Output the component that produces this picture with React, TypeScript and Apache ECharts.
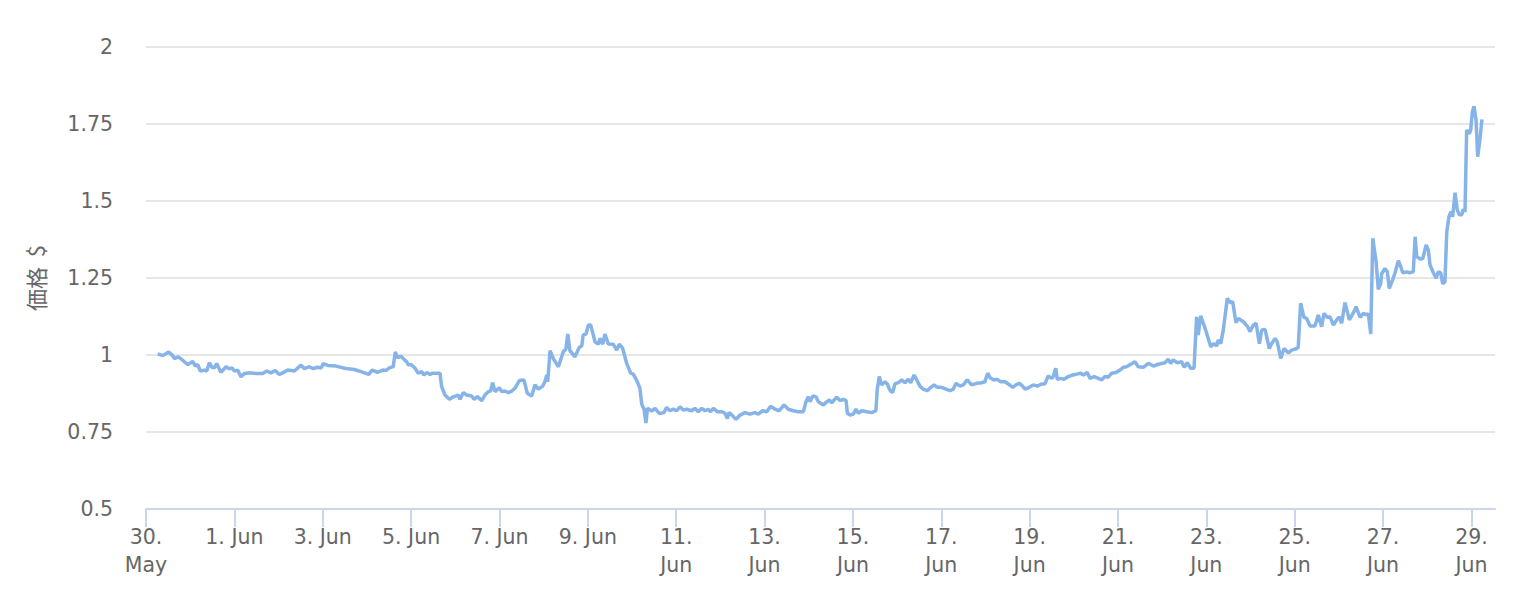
import React, { useEffect, useRef } from "react";
import * as echarts from "echarts";

// hours since 30 May 00:00
const hours: number[] = [
  6.4, 9.1, 12.3, 14.5, 15.4, 17.5, 19.9, 22.7, 25.4, 26.8, 28.1, 29.5, 31.7, 33.0, 34.4, 35.9, 37.1, 38.4, 40.7, 43.5,
  45.2, 46.7, 48.0, 49.8, 51.6, 53.4, 56.1, 59.8, 63.4, 65.6, 67.9, 70.2, 72.4, 74.3, 77.0, 80.6, 84.2, 86.0, 88.7, 90.6,
  93.3, 95.1, 96.3, 98.7, 103.2, 108.6, 113.2, 116.8, 121.0, 122.8, 125.9, 128.6, 130.4, 132.2, 134.3, 135.4, 136.7, 138.5, 140.3,
  141.6, 142.5, 144.3, 146.1, 147.9, 149.8, 151.0, 152.5, 154.3, 155.7, 157.9, 159.7, 160.6, 162.4, 164.8, 166.6, 168.4, 169.6,
  170.6, 172.4, 174.2, 176.9, 178.2, 180.0, 182.4, 184.1, 185.9, 187.2, 188.3, 189.6, 191.9, 193.2, 195.0, 196.8, 198.7, 200.4,
  202.8, 205.3, 207.1, 209.5, 211.3, 213.1, 215.5, 216.7, 217.7, 218.2, 219.5, 221.2, 224.0, 226.7, 228.1, 229.1, 230.3, 233.0,
  235.4, 236.7, 237.5, 239.0, 240.3, 241.6, 243.9, 245.7, 246.6, 248.1, 249.3, 251.1, 253.8, 255.7, 257.1, 258.9, 261.1, 263.3,
  264.7, 266.9, 268.3, 269.3, 270.5, 271.6, 272.4, 274.7, 276.5, 278.8,
  281.4, 282.8, 284.6, 286.4, 288.3, 290.1, 291.9, 293.7, 296.4, 298.2, 300.0, 301.9, 303.7, 305.4, 306.7, 308.2, 310.3, 312.7,
  314.5, 315.8, 316.8, 318.2, 320.5, 322.7, 325.4, 328.1, 330.8, 332.6, 335.0, 337.2, 339.3, 341.7, 344.0, 346.6, 348.9, 351.6,
  354.3, 357.1, 358.5, 359.8, 360.7, 362.2, 364.0, 365.2, 367.9, 369.8, 371.2, 372.5, 375.2, 377.0, 378.8, 380.3, 381.0, 382.5,
  384.2, 385.7, 386.9, 388.8, 391.5, 394.2, 396.5, 397.2, 398.3, 399.6, 401.4, 402.7,
  404.1, 405.6, 406.8, 408.7, 410.5, 412.3, 414.1, 415.4, 417.2, 418.7, 420.4, 422.2, 424.4, 426.3, 428.1, 429.8, 432.2, 434.6,
  436.7, 438.5, 440.0, 442.2, 444.0, 446.1, 448.5, 451.2, 453.9, 455.7, 457.2, 458.5, 460.6, 462.4, 464.3, 466.6, 468.4, 470.8,
  472.6, 474.4, 476.2, 477.5, 479.8, 482.0, 484.2, 486.5, 488.3, 490.1, 492.0, 492.8, 494.2, 495.0, 496.9, 498.7, 501.0, 503.4,
  505.6, 507.7, 509.2, 511.3, 512.8, 515.0, 517.3, 519.1, 520.9, 522.7, 524.6, 526.9, 529.1, 530.9, 532.7, 534.9, 537.2, 539.0,
  541.7, 544.5, 547.2, 549.9,
  553.5, 555.3, 556.6, 558.0, 560.2, 562.6, 564.0, 565.6, 567.5, 569.3, 570.7, 571.6, 572.9, 575.3, 578.4, 580.1, 581.6, 582.5,
  583.8, 585.2, 587.4, 588.9, 590.3, 592.1, 593.4, 596.1, 598.2, 599.7, 601.5, 603.0, 604.8, 606.1, 607.9, 610.2, 611.5, 613.3,
  614.5, 616.4, 618.2, 620.5, 622.4, 625.1, 625.9, 627.2, 629.0, 630.5, 632.3, 635.0, 636.8, 638.6, 639.9, 641.7, 643.2, 645.0,
  646.8, 648.2, 649.5, 651.3, 653.7, 656.2, 657.3, 659.5, 661.3, 663.1, 664.0, 665.3, 666.4, 668.2, 669.4, 670.7, 671.2, 673.0,
  674.3, 675.4, 677.2, 678.5, 680.3, 681.6, 682.7, 684.9, 686.3, 688.4, 689.4, 690.3, 692.5, 693.6, 695.4, 696.6, 697.5, 699.3,
  700.8, 702.0, 703.3, 704.4, 705.6, 706.6, 707.8, 708.9, 709.8, 711.1, 712.3, 713.4, 714.7, 715.6, 716.5, 717.4, 718.8, 719.6,
  720.5, 721.4, 722.5, 723.4, 724.6, 725.7,
];

const prices: number[] = [
  1.004, 0.998, 1.01, 0.998, 0.988, 0.994, 0.983, 0.969, 0.979, 0.964, 0.969, 0.948, 0.951, 0.948, 0.975, 0.96, 0.958, 0.972, 0.944, 0.962,
  0.955, 0.958, 0.948, 0.951, 0.929, 0.94, 0.942, 0.94, 0.94, 0.948, 0.942, 0.95, 0.937, 0.942, 0.951, 0.948, 0.967, 0.956, 0.962, 0.956,
  0.96, 0.958, 0.972, 0.966, 0.964, 0.956, 0.953, 0.946, 0.937, 0.951, 0.944, 0.951, 0.95, 0.958, 0.962, 1.01, 0.991, 0.996, 0.985,
  0.978, 0.968, 0.968, 0.957, 0.941, 0.946, 0.935, 0.943, 0.937, 0.941, 0.941, 0.941, 0.897, 0.87, 0.856, 0.863, 0.867, 0.87,
  0.856, 0.878, 0.87, 0.867, 0.856, 0.865, 0.852, 0.87, 0.881, 0.883, 0.91, 0.881, 0.894, 0.881, 0.883, 0.878, 0.883, 0.892,
  0.917, 0.919, 0.876, 0.867, 0.903, 0.889, 0.899, 0.913, 0.935, 0.913, 1.014, 0.989, 0.962, 1.011, 1.019, 1.068, 1.014, 0.994,
  1.025, 1.029, 1.065, 1.068, 1.097, 1.097, 1.043, 1.035, 1.054, 1.035, 1.068, 1.036, 1.035, 1.016, 1.035, 1.022, 0.973, 0.941,
  0.938, 0.913, 0.892, 0.84, 0.825, 0.779, 0.827, 0.818, 0.827, 0.81,
  0.813, 0.83, 0.819, 0.824, 0.819, 0.832, 0.821, 0.824, 0.819, 0.827, 0.816, 0.827, 0.819, 0.824, 0.816, 0.827, 0.816, 0.816,
  0.811, 0.794, 0.813, 0.805, 0.791, 0.805, 0.813, 0.808, 0.813, 0.808, 0.819, 0.816, 0.834, 0.824, 0.819, 0.838, 0.824, 0.819,
  0.816, 0.816, 0.848, 0.864, 0.848, 0.867, 0.864, 0.848, 0.838, 0.848, 0.854, 0.845, 0.863, 0.852, 0.856, 0.852, 0.811, 0.805,
  0.808, 0.824, 0.811, 0.819, 0.816, 0.813, 0.819, 0.886, 0.93, 0.903, 0.913, 0.906,
  0.886, 0.878, 0.906, 0.91, 0.919, 0.91, 0.921, 0.91, 0.935, 0.919, 0.899, 0.889, 0.884, 0.895, 0.903, 0.895, 0.895, 0.889,
  0.884, 0.889, 0.908, 0.899, 0.903, 0.919, 0.903, 0.908, 0.91, 0.913, 0.941, 0.926, 0.919, 0.921, 0.913, 0.913, 0.906, 0.895,
  0.903, 0.908, 0.899, 0.889, 0.895, 0.903, 0.899, 0.906, 0.906, 0.932, 0.924, 0.93, 0.957, 0.921, 0.924, 0.921, 0.93, 0.935,
  0.938, 0.941, 0.935, 0.943, 0.924, 0.93, 0.924, 0.919, 0.93, 0.928, 0.941, 0.943, 0.951, 0.96, 0.962, 0.97, 0.978, 0.962,
  0.96, 0.973, 0.964, 0.97,
  0.975, 0.986, 0.973, 0.984, 0.975, 0.978, 0.96, 0.975, 0.957, 0.957, 1.124, 1.065, 1.127, 1.087, 1.027, 1.037, 1.029, 1.049,
  1.037, 1.081, 1.184, 1.17, 1.173, 1.105, 1.119, 1.108, 1.094, 1.076, 1.097, 1.103, 1.037, 1.081, 1.083, 1.021, 1.037, 1.054,
  1.043, 0.989, 1.021, 1.007, 1.016, 1.021, 1.025, 1.168, 1.122, 1.119, 1.094, 1.094, 1.13, 1.092, 1.135, 1.122, 1.124, 1.097,
  1.114, 1.124, 1.103, 1.17, 1.114, 1.141, 1.157, 1.122, 1.135, 1.13, 1.135, 1.068, 1.379, 1.303, 1.213, 1.232, 1.263, 1.281,
  1.27, 1.216, 1.244, 1.267, 1.306, 1.287, 1.267, 1.27, 1.267, 1.27, 1.384, 1.319, 1.311, 1.314, 1.357, 1.341, 1.292, 1.267,
  1.249, 1.27, 1.267, 1.231, 1.238, 1.4, 1.449, 1.465, 1.449, 1.527, 1.471, 1.455, 1.455, 1.473, 1.465, 1.731, 1.718, 1.731,
  1.79, 1.808, 1.763, 1.644, 1.698, 1.765,
];

const xTickHours: number[] = [0, 48, 96, 144, 192, 240, 288, 336, 384, 432, 480, 528, 576, 624, 672, 720];
const xTickLabels: string[] = [
  "30.\nMay", "1. Jun", "3. Jun", "5. Jun", "7. Jun", "9. Jun", "11.\nJun", "13.\nJun",
  "15.\nJun", "17.\nJun", "19.\nJun", "21.\nJun", "23.\nJun", "25.\nJun", "27.\nJun", "29.\nJun",
];
const yTicks: number[] = [0.5, 0.75, 1, 1.25, 1.5, 1.75, 2];

const FONT = "'Lucida Grande', 'DejaVu Sans', sans-serif";

export default function App() {
  const ref = useRef<HTMLDivElement>(null);
  useEffect(() => {
    if (!ref.current) return;
    const chart = echarts.init(ref.current, null, { renderer: "svg" });
    const data = hours.map((h, i) => [h, prices[i]]);
    chart.setOption({
      animation: false,
      backgroundColor: "#ffffff",
      grid: { left: 146, right: 24, top: 47, bottom: 89, containLabel: false },
      xAxis: {
        type: "value",
        min: 0,
        max: 732.8,
        interval: 48,
        splitLine: { show: false },
        axisLine: { show: true, lineStyle: { color: "#ccd6eb", width: 2 } },
        axisTick: { show: true, length: 18, customValues: xTickHours, lineStyle: { color: "#ccd6eb", width: 2 } },
        axisLabel: {
          customValues: xTickHours,
          margin: 14,
          color: "#666666",
          fontSize: 20.5,
          fontFamily: FONT,
          lineHeight: 28,
          align: "center",
          formatter: (v: number) => {
            const idx = xTickHours.indexOf(Math.round(v));
            return idx >= 0 ? xTickLabels[idx] : "";
          },
        },
      },
      yAxis: {
        type: "value",
        min: yTicks[0],
        max: yTicks[yTicks.length - 1],
        interval: 0.25,
        name: "価格  $",
        nameLocation: "middle",
        nameGap: 100,
        nameRotate: 90,
        nameTextStyle: { color: "#666666", fontSize: 22, fontFamily: "'Noto Sans CJK JP', 'DejaVu Sans', sans-serif" },
        axisLine: { show: false },
        axisTick: { show: false },
        splitLine: { show: true, lineStyle: { color: "#e6e6e6", width: 2 } },
        axisLabel: { color: "#666666", fontSize: 20.5, fontFamily: FONT, margin: 33 },
      },
      series: [
        {
          type: "line",
          data,
          showSymbol: false,
          symbol: "none",
          lineStyle: { color: "#86b3e8", width: 3.5 },
          itemStyle: { color: "#86b3e8" },
          z: 3,
        },
      ],
    });
    return () => chart.dispose();
  }, []);
  return (
    <div
      ref={ref}
      style={{ position: "fixed", left: 0, top: 0, width: 1519, height: 598, background: "#fff" }}
    />
  );
}
